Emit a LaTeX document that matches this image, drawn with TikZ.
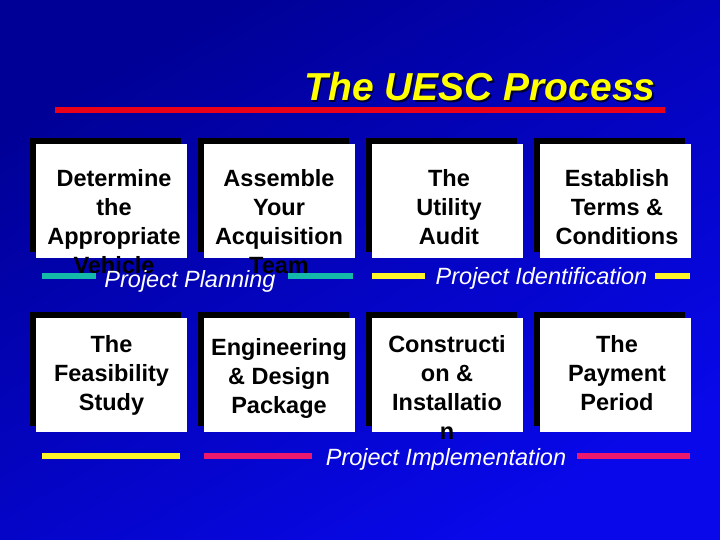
\documentclass[tikz,border=0pt]{standalone}
\usepackage{fontspec}
\setmainfont{Liberation Sans}
\usetikzlibrary{shadows}
\definecolor{bgdark}{RGB}{0,0,150}
\definecolor{bglight}{RGB}{8,8,235}
\definecolor{titleyellow}{RGB}{255,255,0}
\definecolor{barred}{RGB}{235,0,25}
\definecolor{bardark}{RGB}{150,0,35}
\definecolor{barteal}{RGB}{20,185,170}
\definecolor{baryellow}{RGB}{255,245,40}
\definecolor{barpink}{RGB}{235,25,110}
\begin{document}
\begin{tikzpicture}[x=1pt,y=-1pt,every node/.style={inner sep=0pt},
  stagebox/.style={fill=white,minimum width=151pt,minimum height=114pt,
    general shadow={fill=black,shadow xshift=-6pt,shadow yshift=6pt}},
  stagetext/.style={anchor=north,align=center,font=\bfseries\fontsize{23.5}{29}\selectfont},
  phase/.style={anchor=base,text=white,font=\itshape\fontsize{23.5}{28}\selectfont},
  phasebar/.style={line width=6pt}]
\useasboundingbox (0,0) rectangle (720,540);
% Background
\shade[top color=bgdark,bottom color=bglight,shading angle=30] (0,0) rectangle (720,540);
% Title
\node[anchor=base,text=black!80!blue,font=\bfseries\itshape\fontsize{39}{44}\selectfont] (titleshadow) at (481.5,102.5) {The UESC Process};
\node[anchor=base,text=titleyellow,font=\bfseries\itshape\fontsize{39}{44}\selectfont] (title) at (480,101) {The UESC Process};
\shade[left color=barred,middle color=bardark,right color=barred] (55,108) rectangle (665,113);
% Upper row of stages
\node[stagebox] (vehicle) at (111.5,201) {};
\node[stagebox] (team) at (279,201) {};
\node[stagebox] (audit) at (447.5,201) {};
\node[stagebox] (terms) at (615.5,201) {};
\node[stagetext] (vehicletxt) at (114,169) {Determine\\the\\Appropriate\\Vehicle};
\node[stagetext] (teamtxt) at (279,169) {Assemble\\Your\\Acquisition\\Team};
\node[stagetext] (audittxt) at (449,169) {The\\Utility\\Audit};
\node[stagetext] (termstxt) at (617,169) {Establish\\Terms \&\\Conditions};
\node[phase] (planning) at (190,287) {Project Planning};
\node[phase] (identification) at (541.5,284) {Project Identification};
\draw[phasebar,barteal] (42,276) -- (96,276) (288,276) -- (353,276);
\draw[phasebar,baryellow] (372,276) -- (425,276) (655,276) -- (690,276);
% Lower row of stages
\node[stagebox] (feasibility) at (111.5,375) {};
\node[stagebox] (design) at (279,375) {};
\node[stagebox] (construction) at (447.5,375) {};
\node[stagebox] (payment) at (615.5,375) {};
\node[stagetext] (feasibilitytxt) at (111.5,335) {The\\Feasibility\\Study};
\node[stagetext] (designtxt) at (279,338) {Engineering\\\& Design\\Package};
\node[stagetext] (constructiontxt) at (447,335) {Constructi\\on \&\\Installatio\\n};
\node[stagetext] (paymenttxt) at (617,335) {The\\Payment\\Period};
\draw[phasebar,baryellow] (42,456) -- (180,456);
\draw[phasebar,barpink] (204,456) -- (312,456) (577,456) -- (690,456);
\node[phase] (implementation) at (446,465) {Project Implementation};
\end{tikzpicture}
\end{document}
